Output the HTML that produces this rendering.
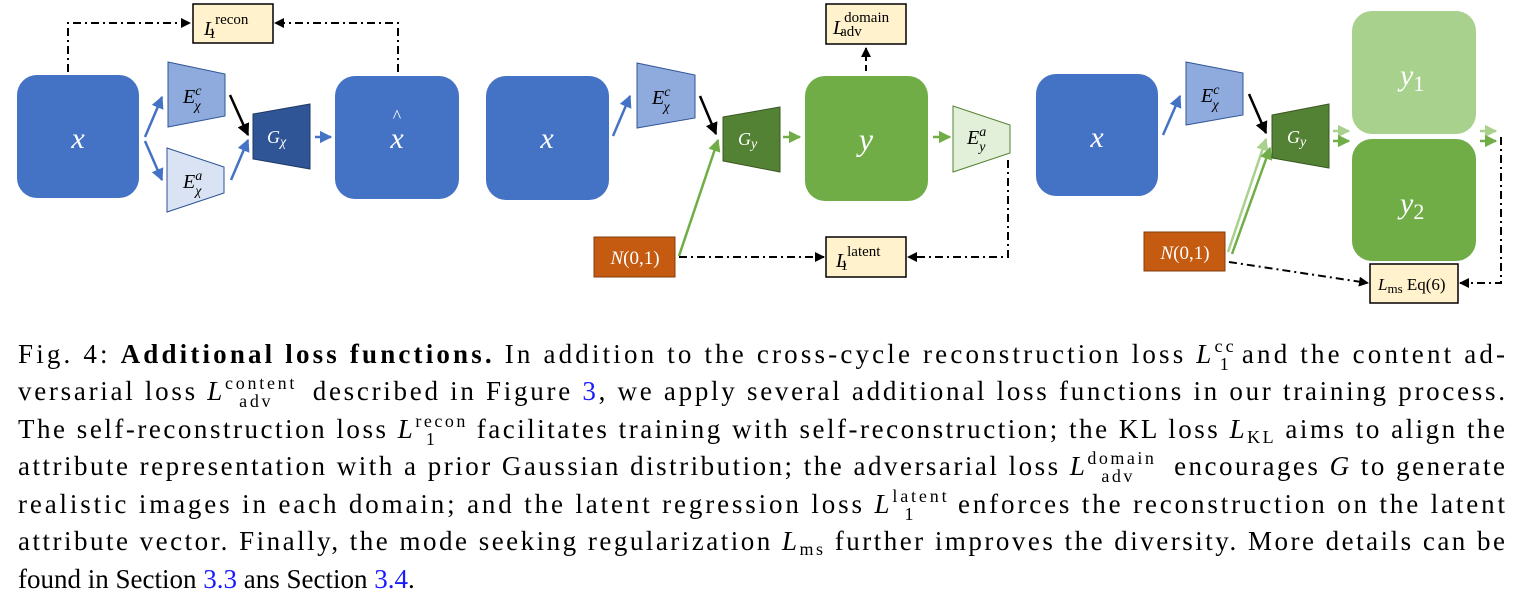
<!DOCTYPE html>
<html><head><meta charset="utf-8"><style>
html,body{margin:0;padding:0;background:#fff;width:1515px;height:601px;overflow:hidden}
svg{display:block}
.cap{font-family:"Liberation Serif",serif;font-size:27px;fill:#000}
.m{font-style:italic}
.s{font-size:18px}
.lk{fill:#1a1aff}
.w{font-family:"Liberation Serif",serif;font-style:italic;fill:#fff}
.b{font-family:"Liberation Serif",serif;fill:#000}
</style></head><body>
<svg width="1515" height="601" viewBox="0 0 1515 601" xmlns="http://www.w3.org/2000/svg">
<defs>
<marker id="ab" viewBox="0 0 10 10" refX="9" refY="5" markerWidth="5" markerHeight="5" orient="auto"><path d="M0,0L10,5L0,10z" fill="#4472C4"/></marker>
<marker id="ak" viewBox="0 0 10 10" refX="9" refY="5" markerWidth="5" markerHeight="5" orient="auto"><path d="M0,0L10,5L0,10z" fill="#000"/></marker>
<marker id="ag" viewBox="0 0 10 10" refX="9" refY="5" markerWidth="5" markerHeight="5" orient="auto"><path d="M0,0L10,5L0,10z" fill="#70AD47"/></marker>
<marker id="al" viewBox="0 0 10 10" refX="9" refY="5" markerWidth="5" markerHeight="5" orient="auto"><path d="M0,0L10,5L0,10z" fill="#A9D18E"/></marker>
</defs>
<g stroke-width="2" fill="none">
<!-- panel 1 -->
<path d="M68,72V23H190" stroke="#000" stroke-dasharray="8,4,2,4" marker-end="url(#ak)"/>
<path d="M398,72V23H275" stroke="#000" stroke-dasharray="8,4,2,4" marker-end="url(#ak)"/>
<line x1="145" y1="137" x2="162" y2="97" stroke="#4472C4" stroke-width="2.5" marker-end="url(#ab)"/>
<line x1="145" y1="141" x2="162" y2="180" stroke="#4472C4" stroke-width="2.5" marker-end="url(#ab)"/>
<line x1="231" y1="180" x2="248" y2="140" stroke="#4472C4" stroke-width="2.5" marker-end="url(#ab)"/>
<line x1="230" y1="95" x2="248" y2="135" stroke="#000" stroke-width="2.5" marker-end="url(#ak)"/>
<line x1="315" y1="137" x2="331" y2="137" stroke="#4472C4" stroke-width="2.5" marker-end="url(#ab)"/>
<!-- panel 2 -->
<line x1="613" y1="136" x2="630" y2="96" stroke="#4472C4" stroke-width="2.5" marker-end="url(#ab)"/>
<line x1="700" y1="96" x2="716" y2="134" stroke="#000" stroke-width="2.5" marker-end="url(#ak)"/>
<line x1="679" y1="256" x2="718" y2="140" stroke="#70AD47" stroke-width="2.5" marker-end="url(#ag)"/>
<line x1="783" y1="137" x2="800" y2="137" stroke="#70AD47" stroke-width="2.5" marker-end="url(#ag)"/>
<line x1="933" y1="137" x2="950" y2="137" stroke="#70AD47" stroke-width="2.5" marker-end="url(#ag)"/>
<line x1="866" y1="71" x2="866" y2="48" stroke="#000" stroke-dasharray="6,4" marker-end="url(#ak)"/>
<path d="M679,257H824" stroke="#000" stroke-dasharray="8,4,2,4" marker-end="url(#ak)"/>
<path d="M1008,160V257H908" stroke="#000" stroke-dasharray="8,4,2,4" marker-end="url(#ak)"/>
<!-- panel 3 -->
<line x1="1163" y1="135" x2="1180" y2="96" stroke="#4472C4" stroke-width="2.5" marker-end="url(#ab)"/>
<line x1="1249" y1="94" x2="1266" y2="133" stroke="#000" stroke-width="2.5" marker-end="url(#ak)"/>
<line x1="1228" y1="252" x2="1266" y2="139" stroke="#A9D18E" stroke-width="2.5" marker-end="url(#al)"/>
<line x1="1232" y1="254" x2="1270" y2="148" stroke="#70AD47" stroke-width="2.5" marker-end="url(#ag)"/>
<line x1="1333" y1="131" x2="1349" y2="131" stroke="#A9D18E" stroke-width="2.5" marker-end="url(#al)"/>
<line x1="1333" y1="141" x2="1349" y2="141" stroke="#70AD47" stroke-width="2.5" marker-end="url(#ag)"/>
<line x1="1480" y1="131" x2="1496" y2="131" stroke="#A9D18E" stroke-width="2.5" marker-end="url(#al)"/>
<line x1="1480" y1="141" x2="1496" y2="141" stroke="#70AD47" stroke-width="2.5" marker-end="url(#ag)"/>
<path d="M1501,137V283H1460" stroke="#000" stroke-dasharray="8,4,2,4" marker-end="url(#ak)"/>
<path d="M1229,262L1368,283" stroke="#000" stroke-dasharray="8,4,2,4" marker-end="url(#ak)"/>
</g>
<!-- shapes panel 1 -->
<rect x="17" y="75" width="122" height="123" rx="20" fill="#4472C4"/>
<text x="78" y="148" class="w" font-size="30" text-anchor="middle">x</text>
<polygon points="168,62 225,74 225,116 168,127" fill="#8FAADC" stroke="#2F5597"/>
<text x="183" y="103" class="b" font-style="italic" font-size="20">E<tspan dy="-8" font-size="14">c</tspan><tspan dx="-7" dy="15" font-size="14">χ</tspan></text>
<polygon points="167,148 224,167 224,193 167,212" fill="#DAE3F3" stroke="#2F5597"/>
<text x="183" y="188" class="b" font-style="italic" font-size="20">E<tspan dy="-8" font-size="14">a</tspan><tspan dx="-7" dy="15" font-size="14">χ</tspan></text>
<polygon points="253,114 310,104 310,169 253,159" fill="#2F5597" stroke="#203864"/>
<text x="267" y="143" class="w" font-size="18">G<tspan font-size="14" dy="3">χ</tspan></text>
<rect x="335" y="76" width="124" height="123" rx="20" fill="#4472C4"/>
<text x="397" y="148" class="w" font-size="30" text-anchor="middle">x</text>
<text x="397" y="122" fill="#fff" font-size="18" text-anchor="middle" font-family="Liberation Serif">^</text>
<rect x="193" y="4" width="80" height="39" fill="#FFF2CC" stroke="#000" stroke-width="1.5"/>
<text x="204" y="35" class="b" font-size="20"><tspan font-style="italic">L</tspan><tspan dy="-11" font-size="15">recon</tspan><tspan dx="-40" dy="14" font-size="15">1</tspan></text>
<!-- panel 2 -->
<rect x="486" y="76" width="123" height="124" rx="20" fill="#4472C4"/>
<text x="547" y="148" class="w" font-size="30" text-anchor="middle">x</text>
<polygon points="637,63 695,75 695,118 637,128" fill="#8FAADC" stroke="#2F5597"/>
<text x="652" y="104" class="b" font-style="italic" font-size="20">E<tspan dy="-8" font-size="14">c</tspan><tspan dx="-7" dy="15" font-size="14">χ</tspan></text>
<polygon points="723,117 780,107 780,172 723,161" fill="#548235" stroke="#385723"/>
<text x="738" y="145" class="w" font-size="18">G<tspan font-size="14" dy="3">y</tspan></text>
<rect x="805" y="76" width="123" height="125" rx="20" fill="#70AD47"/>
<text x="866" y="150" class="w" font-size="32" text-anchor="middle">y</text>
<polygon points="953,106 1010,125 1010,153 953,172" fill="#E2F0D9" stroke="#548235"/>
<text x="967" y="144" class="b" font-style="italic" font-size="20">E<tspan dy="-8" font-size="14">a</tspan><tspan dx="-7" dy="15" font-size="14">y</tspan></text>
<rect x="826" y="4" width="80" height="40" fill="#FFF2CC" stroke="#000" stroke-width="1.5"/>
<text x="833" y="34" class="b" font-size="20"><tspan font-style="italic">L</tspan><tspan dy="-12" font-size="15">domain</tspan><tspan dx="-49" dy="14" font-size="15">adv</tspan></text>
<rect x="594" y="237" width="81" height="40" fill="#C55A11" stroke="#843C0C"/>
<text x="635" y="264" fill="#fff" font-family="Liberation Serif" font-size="19" text-anchor="middle"><tspan font-style="italic">N</tspan>(0,1)</text>
<rect x="826" y="237" width="80" height="40" fill="#FFF2CC" stroke="#000" stroke-width="1.5"/>
<text x="836" y="267" class="b" font-size="20"><tspan font-style="italic">L</tspan><tspan dy="-11" font-size="15">latent</tspan><tspan dx="-40" dy="14" font-size="15">1</tspan></text>
<!-- panel 3 -->
<rect x="1036" y="74" width="122" height="122" rx="20" fill="#4472C4"/>
<text x="1097" y="147" class="w" font-size="30" text-anchor="middle">x</text>
<polygon points="1186,62 1243,73 1243,115 1186,125" fill="#8FAADC" stroke="#2F5597"/>
<text x="1201" y="102" class="b" font-style="italic" font-size="20">E<tspan dy="-8" font-size="14">c</tspan><tspan dx="-7" dy="15" font-size="14">χ</tspan></text>
<polygon points="1272,115 1329,104 1329,168 1272,158" fill="#548235" stroke="#385723"/>
<text x="1287" y="143" class="w" font-size="18">G<tspan font-size="14" dy="3">y</tspan></text>
<rect x="1352" y="11" width="124" height="123" rx="20" fill="#A9D18E"/>
<text x="1400" y="85" class="w" font-size="30">y<tspan font-style="normal" font-size="22" dy="6">1</tspan></text>
<rect x="1352" y="139" width="124" height="122" rx="20" fill="#70AD47"/>
<text x="1400" y="213" class="w" font-size="30">y<tspan font-style="normal" font-size="22" dy="6">2</tspan></text>
<rect x="1144" y="232" width="81" height="39" fill="#C55A11" stroke="#843C0C"/>
<text x="1185" y="259" fill="#fff" font-family="Liberation Serif" font-size="19" text-anchor="middle"><tspan font-style="italic">N</tspan>(0,1)</text>
<rect x="1370" y="264" width="88" height="39" fill="#FFF2CC" stroke="#000" stroke-width="1.5"/>
<text x="1378" y="290" class="b" font-size="17"><tspan font-style="italic">L</tspan><tspan font-size="13" dy="3">ms</tspan><tspan dy="-3"> Eq(6)</tspan></text>
<!-- caption -->
<g class="cap">
<text x="18" y="363" textLength="1487" lengthAdjust="spacing">Fig. 4: <tspan font-weight="bold">Additional loss functions.</tspan> In addition to the cross-cycle reconstruction loss <tspan class="m">L</tspan><tspan class="s" dy="-11">cc</tspan><tspan class="s" dx="-17" dy="18">1</tspan><tspan dy="-7"> and the content ad-</tspan></text>
<text x="18" y="400" textLength="1487" lengthAdjust="spacing">versarial loss <tspan class="m">L</tspan><tspan class="s" dy="-11">content</tspan><tspan class="s" dx="-58" dy="18">adv</tspan><tspan dx="30" dy="-7"> described in Figure </tspan><tspan class="lk">3</tspan>, we apply several additional loss functions in our training process.</text>
<text x="18" y="438" textLength="1487" lengthAdjust="spacing">The self-reconstruction loss <tspan class="m">L</tspan><tspan class="s" dy="-11">recon</tspan><tspan class="s" dx="-42" dy="18">1</tspan><tspan dx="30" dy="-7"> facilitates training with self-reconstruction; the KL loss </tspan><tspan class="m">L</tspan><tspan class="s" dy="5">KL</tspan><tspan dy="-5"> aims to align the</tspan></text>
<text x="18" y="475" textLength="1487" lengthAdjust="spacing">attribute representation with a prior Gaussian distribution; the adversarial loss <tspan class="m">L</tspan><tspan class="s" dy="-11">domain</tspan><tspan class="s" dx="-55" dy="18">adv</tspan><tspan dx="30" dy="-7"> encourages </tspan><tspan class="m">G</tspan> to generate</text>
<text x="18" y="513" textLength="1487" lengthAdjust="spacing">realistic images in each domain; and the latent regression loss <tspan class="m">L</tspan><tspan class="s" dy="-11">latent</tspan><tspan class="s" dx="-45" dy="18">1</tspan><tspan dx="32" dy="-7"> enforces the reconstruction on the latent</tspan></text>
<text x="18" y="550" textLength="1487" lengthAdjust="spacing">attribute vector. Finally, the mode seeking regularization <tspan class="m">L</tspan><tspan class="s" dy="5">ms</tspan><tspan dy="-5"> further improves the diversity. More details can be</tspan></text>
<text x="18" y="588">found in Section <tspan class="lk">3.3</tspan> ans Section <tspan class="lk">3.4</tspan>.</text>
</g>
</svg>
</body></html>
